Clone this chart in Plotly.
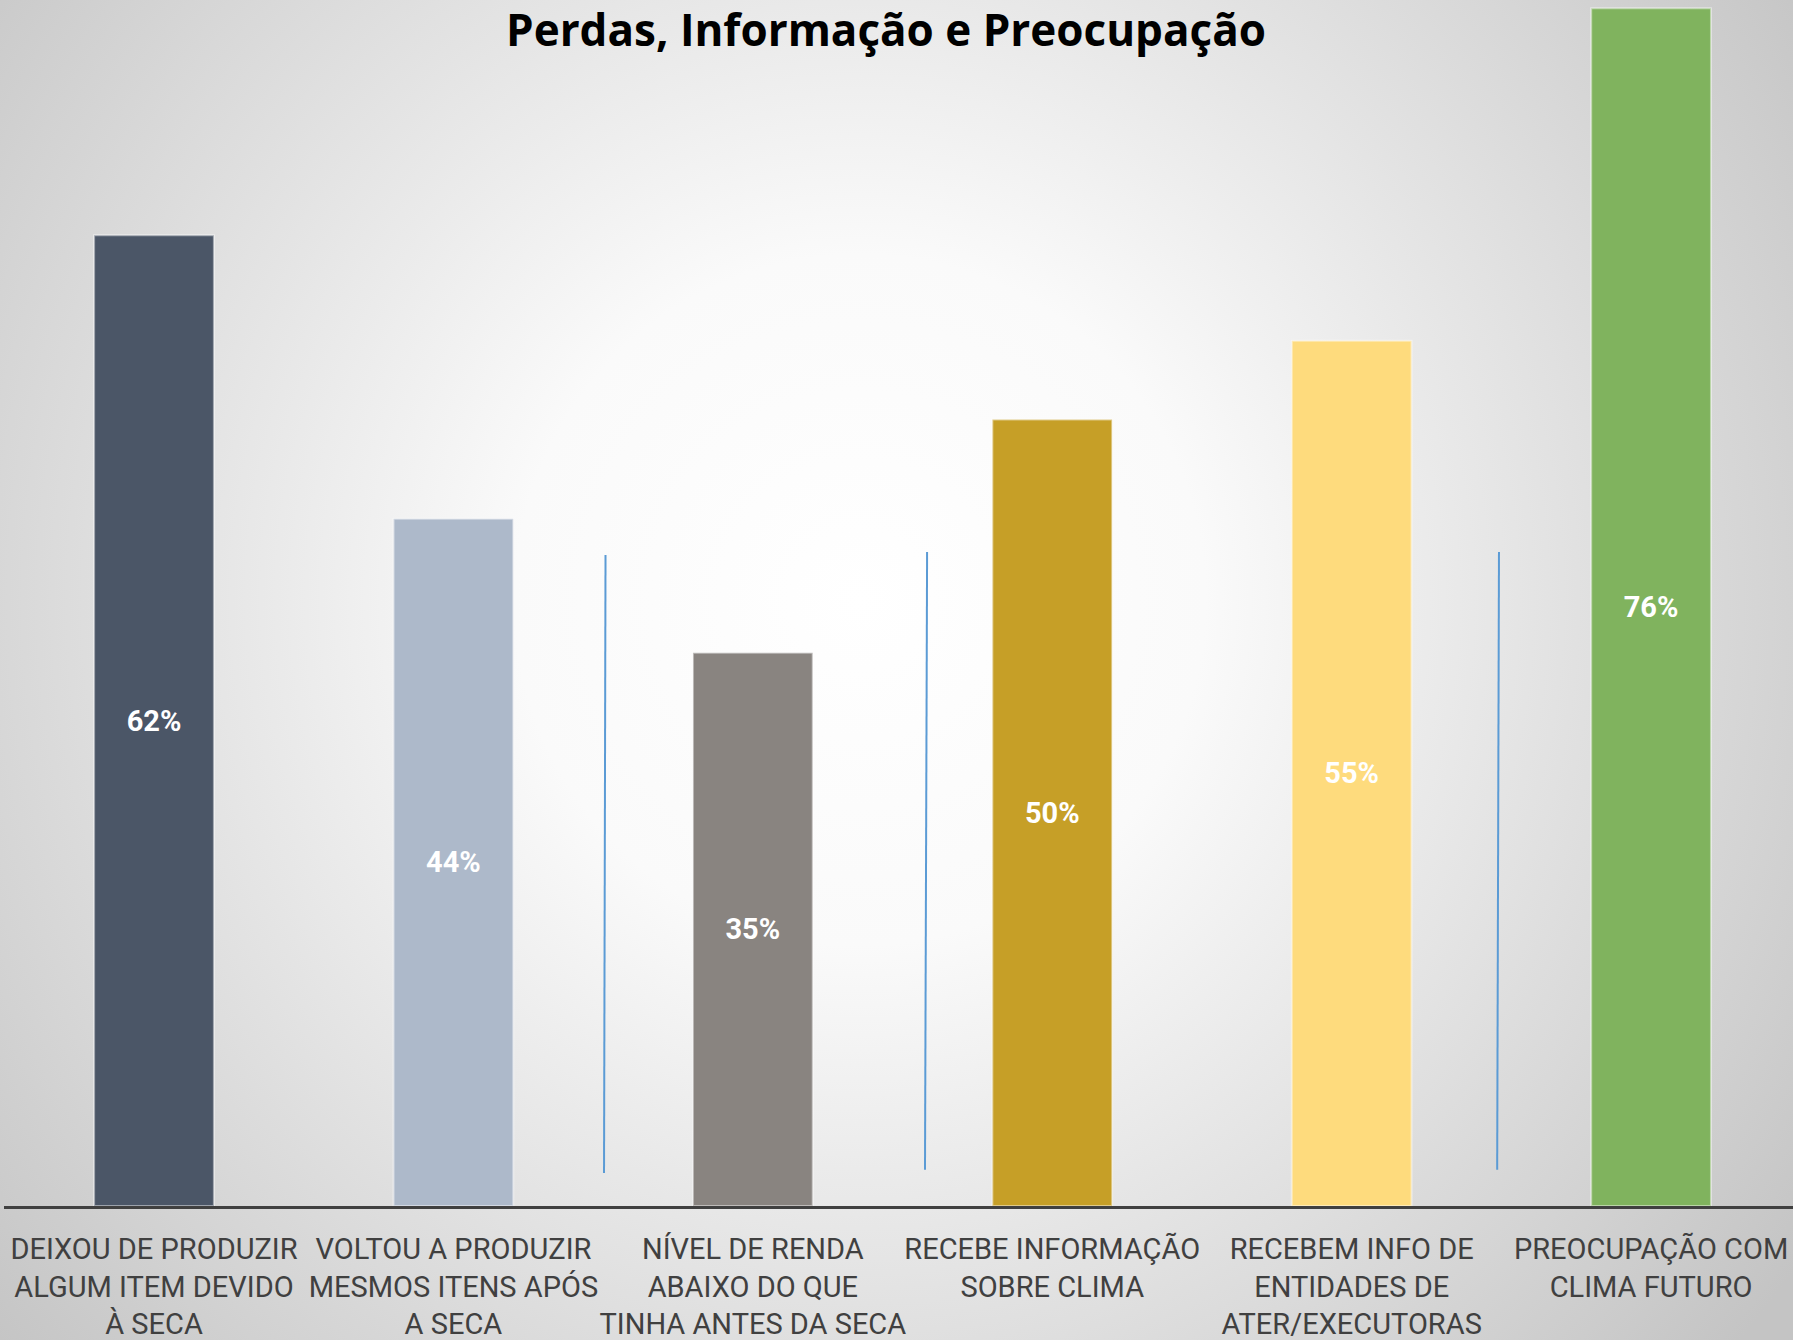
import base64
import plotly.graph_objects as go

# ---- data ----
categories = [
    "DEIXOU DE PRODUZIR<br>ALGUM ITEM DEVIDO<br>À SECA",
    "VOLTOU A PRODUZIR<br>MESMOS ITENS APÓS<br>A SECA",
    "NÍVEL DE RENDA<br>ABAIXO DO QUE<br>TINHA ANTES DA SECA",
    "RECEBE INFORMAÇÃO<br>SOBRE CLIMA",
    "RECEBEM INFO DE<br>ENTIDADES DE<br>ATER/EXECUTORAS",
    "PREOCUPAÇÃO COM<br>CLIMA FUTURO",
]
values = [61.6, 43.6, 35.1, 49.9, 54.9, 76.0]
value_labels = ["62%", "44%", "35%", "50%", "55%", "76%"]
bar_colors = ["#4B5667", "#ADB9CA", "#898480", "#C69F27", "#FEDB7D", "#80B35E"]

# stray separator strokes (category units / value units)
sep_x_top = [1.508, 2.582, 4.492]
sep_x_bot = [1.503, 2.575, 4.486]
sep_y_top = [41.3, 41.5, 41.5]
sep_y_bot = [2.1, 2.3, 2.3]

title_text = "Perdas, Informação e Preocupação"

W, H = 1793, 1340
ML, MR, MT, MB = 4, 0, 0, 134
PW, PH = W - ML - MR, H - MT - MB

xpos = list(range(len(values)))

svg = (
    f"<svg xmlns='http://www.w3.org/2000/svg' width='{W}' height='{H}' viewBox='0 0 {W} {H}' preserveAspectRatio='none'>"
    "<defs><radialGradient id='g' cx='860' cy='600' r='1150' gradientUnits='userSpaceOnUse'>"
    "<stop offset='0' stop-color='#ffffff'/>"
    "<stop offset='0.3' stop-color='#fafafa'/>"
    "<stop offset='1' stop-color='#c4c4c4'/>"
    "</radialGradient></defs>"
    f"<rect width='{W}' height='{H}' fill='url(#g)'/></svg>"
)
bg_src = "data:image/svg+xml;base64," + base64.b64encode(svg.encode()).decode()

fig = go.Figure()
fig.add_trace(go.Bar(
    x=xpos,
    y=values,
    width=0.4,
    marker=dict(color=bar_colors, line=dict(color="rgba(255,255,255,0.45)", width=2)),
    text=value_labels,
    textposition="inside",
    insidetextanchor="middle",
    textangle=0,
    constraintext="none",
    textfont=dict(family="Roboto", size=29, color="white", weight="bold"),
    hoverinfo="skip",
))

for xt, xb, yt, yb in zip(sep_x_top, sep_x_bot, sep_y_top, sep_y_bot):
    fig.add_shape(type="line", xref="x", yref="y", x0=xt, y0=yt, x1=xb, y1=yb,
                  line=dict(color="#5B9BD5", width=2))

fig.update_layout(
    width=W, height=H,
    margin=dict(l=ML, r=MR, t=MT, b=MB, autoexpand=False),
    paper_bgcolor="#d8d8d8",
    plot_bgcolor="rgba(0,0,0,0)",
    showlegend=False,
    title=dict(text=title_text, x=886 / W, xanchor="center", xref="container",
               y=1 - 31 / H, yref="container", yanchor="middle", automargin=False,
               font=dict(family="Open Sans", size=44, color="black", weight="bold")),
    images=[dict(source=bg_src, xref="paper", yref="paper", x=-ML / PW, y=1,
                 sizex=W / PW, sizey=H / PH, xanchor="left", yanchor="top",
                 sizing="stretch", layer="below")],
    xaxis=dict(
        range=[-0.501, 5.474],
        tickmode="array", tickvals=xpos, ticktext=categories,
        tickangle=0, automargin=False, ticklabelstandoff=15,
        showline=True, linecolor="#404040", linewidth=3,
        showgrid=False, zeroline=False, ticks="",
        tickfont=dict(family="Roboto", size=29, color="#404040"),
        fixedrange=True,
    ),
    yaxis=dict(range=[0, 76.52], visible=False, showgrid=False, zeroline=False,
               automargin=False, fixedrange=True),
)

fig.write_html(
    "out.html",
    config={"displayModeBar": False},
    post_script="document.body.style.margin='0';document.body.style.overflow='hidden';",
)
